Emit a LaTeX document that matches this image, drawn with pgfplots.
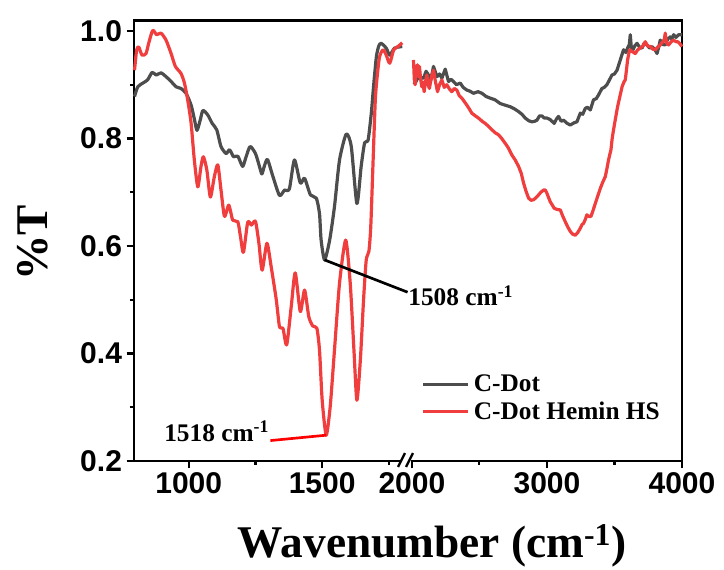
\documentclass[border=0pt]{standalone}
\usepackage{fontspec}
\setmainfont{Liberation Serif}
\newfontfamily\ticksf{Liberation Sans}
\usepackage{pgfplots}
\pgfplotsset{compat=1.18}
\definecolor{cgray}{HTML}{4D4D4D}
\definecolor{cred}{HTML}{F03E3E}
\begin{document}
\begin{tikzpicture}
\useasboundingbox (-100.5pt,-81.75pt) rectangle (442.5pt,345.75pt);
\begin{axis}[
  at={(0,0)}, anchor=south west,
  scale only axis, width=411pt, height=330.4pt,
  x coord trafo/.code={\pgfmathparse{#1<1900 ? #1 : 1836+0.506*(#1-2000)}},
  xmin=795, xmax=4000, ymin=0.2, ymax=1.0195,
  axis line style={line width=2pt},
  every tick/.style={black, line width=1.6pt},
  tick align=outside, tick pos=left,
  major tick length=5.5pt, minor tick length=3pt,
  xtick={1000,1500,2000,3000,4000},
  xticklabels={1000,1500,2000,3000,4000},
  minor xtick={1250,1750,2500,3500},
  ytick={0.2,0.4,0.6,0.8,1.0},
  yticklabels={0.2,0.4,0.6,0.8,1.0},
  minor ytick={0.3,0.5,0.7,0.9},
  ticklabel style={font=\ticksf\bfseries\fontsize{22.5}{26}\selectfont},
  xlabel={Wavenumber (cm\textsuperscript{-1})},
  ylabel={\%T},
  xlabel style={font=\bfseries\fontsize{34}{40}\selectfont, at={(axis description cs:0.544,-0.22)}, anchor=base},
  ylabel style={font=\bfseries\fontsize{34}{40}\selectfont, at={(axis description cs:-0.185,0.495)}, anchor=center, rotate=0},
  legend style={draw=none, fill=none, inner sep=0pt, at={(rel axis cs:0.524,0.143)}, anchor=west,
    font=\bfseries\fontsize{19}{22}\selectfont, row sep=4pt, nodes={inner xsep=3pt, inner ysep=1pt}},
  legend cell align=left,
  legend image code/.code={\draw[#1] (0pt,0pt) -- (34pt,0pt);},
  clip=false,
]
% C-Dot left
\addplot[cgray, line width=2.4pt, line join=round, smooth, tension=0.4] coordinates {
(797,0.878) (809,0.896) (828,0.903) (846,0.909) (863,0.923) (878,0.918) (896,0.922) (915,0.915)
(934,0.906) (953,0.896) (971,0.893) (990,0.884) (1009,0.862) (1022,0.834) (1031,0.815) (1043,0.834)
(1053,0.852) (1071,0.844) (1088,0.828) (1105,0.816) (1121,0.785) (1140,0.772) (1153,0.779) (1168,0.766)
(1184,0.767) (1202,0.748) (1215,0.766) (1230,0.785) (1250,0.772) (1265,0.748) (1274,0.734) (1283,0.748)
(1295,0.761) (1315,0.730) (1340,0.694) (1359,0.704) (1377,0.706) (1396,0.760) (1418,0.717) (1434,0.726)
(1456,0.695) (1478,0.689) (1490,0.660) (1496,0.611) (1509,0.574) (1528,0.611) (1546,0.673) (1565,0.760)
(1590,0.808) (1609,0.785) (1630,0.679) (1646,0.748) (1659,0.792) (1672,0.797) (1684,0.847) (1693,0.900)
(1703,0.952) (1712,0.972) (1721,0.977) (1740,0.968) (1753,0.955) (1771,0.968) (1800,0.971)
};
\addlegendentry{C-Dot}
% C-Dot Hemin HS left
\addplot[cred, line width=2.4pt, line join=round, smooth, tension=0.4] coordinates {
(797,0.927) (805,0.965) (813,0.970) (825,0.955) (840,0.958) (850,0.977) (865,1.001) (880,0.993)
(896,0.996) (915,0.983) (934,0.958) (950,0.934) (971,0.921) (984,0.903) (996,0.872) (1009,0.828)
(1021,0.760) (1034,0.710) (1046,0.748) (1055,0.766) (1068,0.741) (1081,0.691) (1096,0.729) (1109,0.751)
(1121,0.704) (1134,0.655) (1150,0.676) (1165,0.648) (1184,0.645) (1194,0.617) (1205,0.588) (1221,0.644)
(1235,0.639) (1250,0.646) (1263,0.605) (1275,0.555) (1293,0.605) (1309,0.561) (1328,0.500) (1340,0.450)
(1353,0.447) (1367,0.416) (1384,0.487) (1399,0.550) (1418,0.478) (1434,0.518) (1450,0.468) (1465,0.451)
(1480,0.447) (1490,0.406) (1500,0.313) (1515,0.248) (1530,0.301) (1546,0.406) (1565,0.531) (1588,0.611)
(1605,0.531) (1619,0.406) (1630,0.313) (1643,0.388) (1655,0.500) (1665,0.574) (1675,0.590) (1682,0.636)
(1690,0.748) (1699,0.872) (1707,0.920) (1715,0.952) (1728,0.965) (1740,0.955) (1753,0.940) (1768,0.965)
(1784,0.971) (1800,0.978)
};
\addlegendentry{C-Dot Hemin HS}
% C-Dot right
\addplot[cgray, line width=2.4pt, line join=round, forget plot] coordinates {
(2012,0.905) (2024,0.903) (2050,0.915) (2086,0.912) (2105,0.925) (2123,0.918) (2140,0.908) (2160,0.934)
(2185,0.915) (2205,0.920) (2222,0.912) (2247,0.929) (2271,0.906) (2290,0.910) (2308,0.906) (2330,0.900)
(2358,0.903) (2380,0.895) (2407,0.890) (2430,0.888) (2456,0.884) (2490,0.887) (2519,0.884) (2550,0.878)
(2580,0.875) (2615,0.872) (2654,0.865) (2690,0.862) (2728,0.859) (2760,0.855) (2790,0.850) (2815,0.845)
(2839,0.838) (2865,0.833) (2889,0.831) (2910,0.832) (2926,0.834) (2945,0.842) (2963,0.842) (2980,0.838)
(3000,0.838) (3025,0.835) (3054,0.828) (3070,0.836) (3086,0.841) (3105,0.832) (3123,0.834) (3150,0.828)
(3173,0.825) (3200,0.829) (3222,0.831) (3247,0.847) (3265,0.845) (3284,0.856) (3300,0.858) (3321,0.853)
(3345,0.872) (3365,0.874) (3382,0.881) (3407,0.893) (3425,0.895) (3444,0.900) (3465,0.910) (3481,0.918)
(3500,0.920) (3519,0.927) (3543,0.946) (3567,0.965) (3585,0.960) (3597,0.968) (3610,0.975) (3617,0.993)
(3627,0.962) (3637,0.965) (3650,0.972) (3667,0.977) (3685,0.970) (3704,0.968) (3720,0.977) (3741,0.974)
(3760,0.968) (3778,0.971) (3800,0.965) (3815,0.958) (3830,0.972) (3839,0.983) (3855,0.975) (3876,0.974)
(3895,0.985) (3913,0.989) (3925,0.985) (3938,0.993) (3955,0.988) (3975,0.993) (4000,0.993)
};
% C-Dot Hemin HS right
\addplot[cred, line width=2.4pt, line join=round, forget plot] coordinates {
(2012,0.946) (2018,0.910) (2024,0.900) (2033,0.930) (2042,0.937) (2050,0.915) (2056,0.934) (2065,0.910)
(2074,0.896) (2082,0.905) (2091,0.887) (2100,0.905) (2111,0.918) (2120,0.900) (2130,0.893) (2145,0.915)
(2160,0.927) (2175,0.905) (2190,0.887) (2205,0.900) (2222,0.909) (2240,0.895) (2259,0.900) (2278,0.892)
(2296,0.887) (2315,0.893) (2333,0.890) (2350,0.880) (2370,0.875) (2390,0.868) (2407,0.862) (2425,0.855)
(2444,0.847) (2470,0.842) (2493,0.838) (2520,0.832) (2543,0.828) (2570,0.822) (2593,0.816) (2620,0.810)
(2641,0.807) (2665,0.800) (2691,0.791) (2715,0.782) (2741,0.769) (2765,0.760) (2790,0.748) (2810,0.735)
(2827,0.717) (2845,0.702) (2864,0.689) (2882,0.685) (2901,0.686) (2920,0.690) (2938,0.695) (2955,0.700)
(2975,0.704) (2988,0.704) (3000,0.698) (3012,0.690) (3025,0.682) (3040,0.676) (3054,0.670) (3075,0.668)
(3099,0.667) (3118,0.655) (3136,0.645) (3155,0.635) (3173,0.627) (3190,0.622) (3210,0.620) (3228,0.625)
(3247,0.633) (3260,0.640) (3271,0.642) (3285,0.650) (3296,0.658) (3310,0.655) (3326,0.655) (3340,0.665)
(3358,0.679) (3375,0.692) (3395,0.707) (3412,0.718) (3432,0.729) (3445,0.745) (3456,0.760) (3474,0.779)
(3483,0.800) (3493,0.816) (3508,0.838) (3523,0.859) (3540,0.878) (3556,0.896) (3570,0.905) (3580,0.909)
(3590,0.930) (3597,0.946) (3612,0.965) (3630,0.962) (3654,0.958) (3672,0.965) (3691,0.968) (3710,0.972)
(3728,0.980) (3745,0.972) (3765,0.971) (3785,0.966) (3802,0.965) (3820,0.970) (3839,0.974) (3858,0.980)
(3870,0.985) (3876,0.996) (3885,0.978) (3901,0.974) (3920,0.980) (3938,0.983) (3955,0.980) (3968,0.980)
(3985,0.976) (4000,0.971)
};
% annotations
\draw[black, line width=2pt] (axis cs:1509,0.574) -- (axis cs:1820,0.514);
\node[anchor=west, font=\bfseries\fontsize{19}{22}\selectfont, inner sep=0pt] at (axis cs:1822,0.507) {1508 cm\textsuperscript{-1}};
\draw[red, line width=2pt] (axis cs:1306,0.238) -- (axis cs:1515,0.248);
\node[anchor=east, font=\bfseries\fontsize{19}{22}\selectfont, inner sep=0pt] at (axis cs:1302,0.255) {1518 cm\textsuperscript{-1}};
% axis break
\fill[white] (rel axis cs:0.486,-0.01) rectangle (rel axis cs:0.506,0.01);
\draw[black, line width=1.8pt] (rel axis cs:0.4818,-0.0136) -- (rel axis cs:0.4945,0.018);
\draw[black, line width=1.8pt] (rel axis cs:0.4964,-0.0136) -- (rel axis cs:0.5091,0.018);
\end{axis}
\end{tikzpicture}
\end{document}
